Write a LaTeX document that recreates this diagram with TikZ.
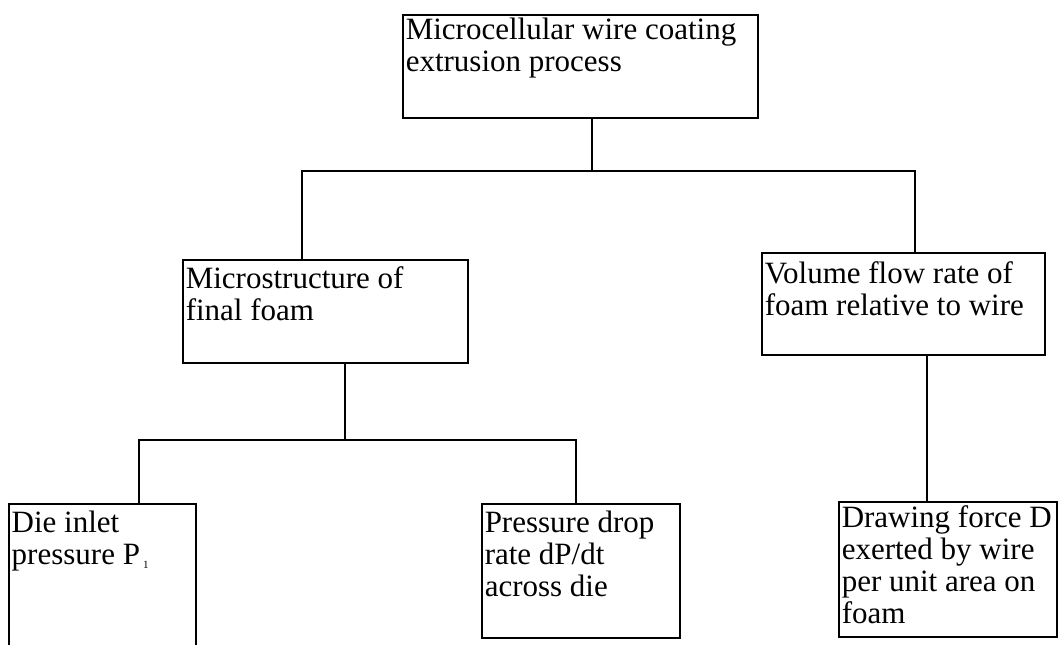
\documentclass[tikz,border=0pt]{standalone}
\usepackage{fontspec}
\setmainfont{Liberation Serif}

% box content: width, height, first-baseline offset, text
\newcommand\cellbox[4]{%
  \parbox[t][#2pt][t]{#1pt}{%
    \fontsize{31}{32}\selectfont\hfuzz=20pt
    \leftskip=3pt\rightskip=0pt plus 1fil\parindent=0pt
    \rule{0pt}{#3pt}#4}}

\tikzset{
  blk/.style={draw, line width=1.5pt, inner sep=0pt, anchor=north west},
  link/.style={line width=1.4pt}
}

\begin{document}
\begin{tikzpicture}[x=1pt,y=-1pt]
\useasboundingbox (0,0) rectangle (1058,645);

\node[blk] (top) at (402,14)
  {\cellbox{355}{103}{25}{Microcellular wire coating\\extrusion process}};
\node[blk] (micro) at (182,259)
  {\cellbox{285}{103}{29}{Microstructure of\\final foam}};
\node[blk] (vol) at (761,252)
  {\cellbox{283}{102}{31}{Volume flow rate of\\foam relative to wire}};
\node[blk] (die) at (8,503)
  {\cellbox{187}{170}{29}{Die inlet\\pressure P\raisebox{-0.25ex}{\hspace{3pt}\fontsize{11}{11}\selectfont 1}}};
\node[blk] (press) at (481,503)
  {\cellbox{198}{134}{29}{Pressure drop\\rate dP/dt\\across die}};
\node[blk] (draw) at (838,501)
  {\cellbox{218}{135}{26}{Drawing force D\\exerted by wire\\per unit area on\\foam}};

% junction points of the tree
\coordinate (j0) at (592,171);
\coordinate (jl) at (302,171);
\coordinate (jr) at (915,171);
\coordinate (j1) at (345,440);
\coordinate (jdl) at (139,440);
\coordinate (jdr) at (576,440);
\coordinate (jv) at (927,400);

\draw[link] (top.south -| j0) -- (j0);
\draw[link] (micro.north -| jl) -- (jl) -- (jr) -- (vol.north -| jr);
\draw[link] (micro.south -| j1) -- (j1);
\draw[link] (die.north -| jdl) -- (jdl) -- (jdr) -- (press.north -| jdr);
\draw[link] (vol.south -| jv) -- (draw.north -| jv);
\end{tikzpicture}
\end{document}
